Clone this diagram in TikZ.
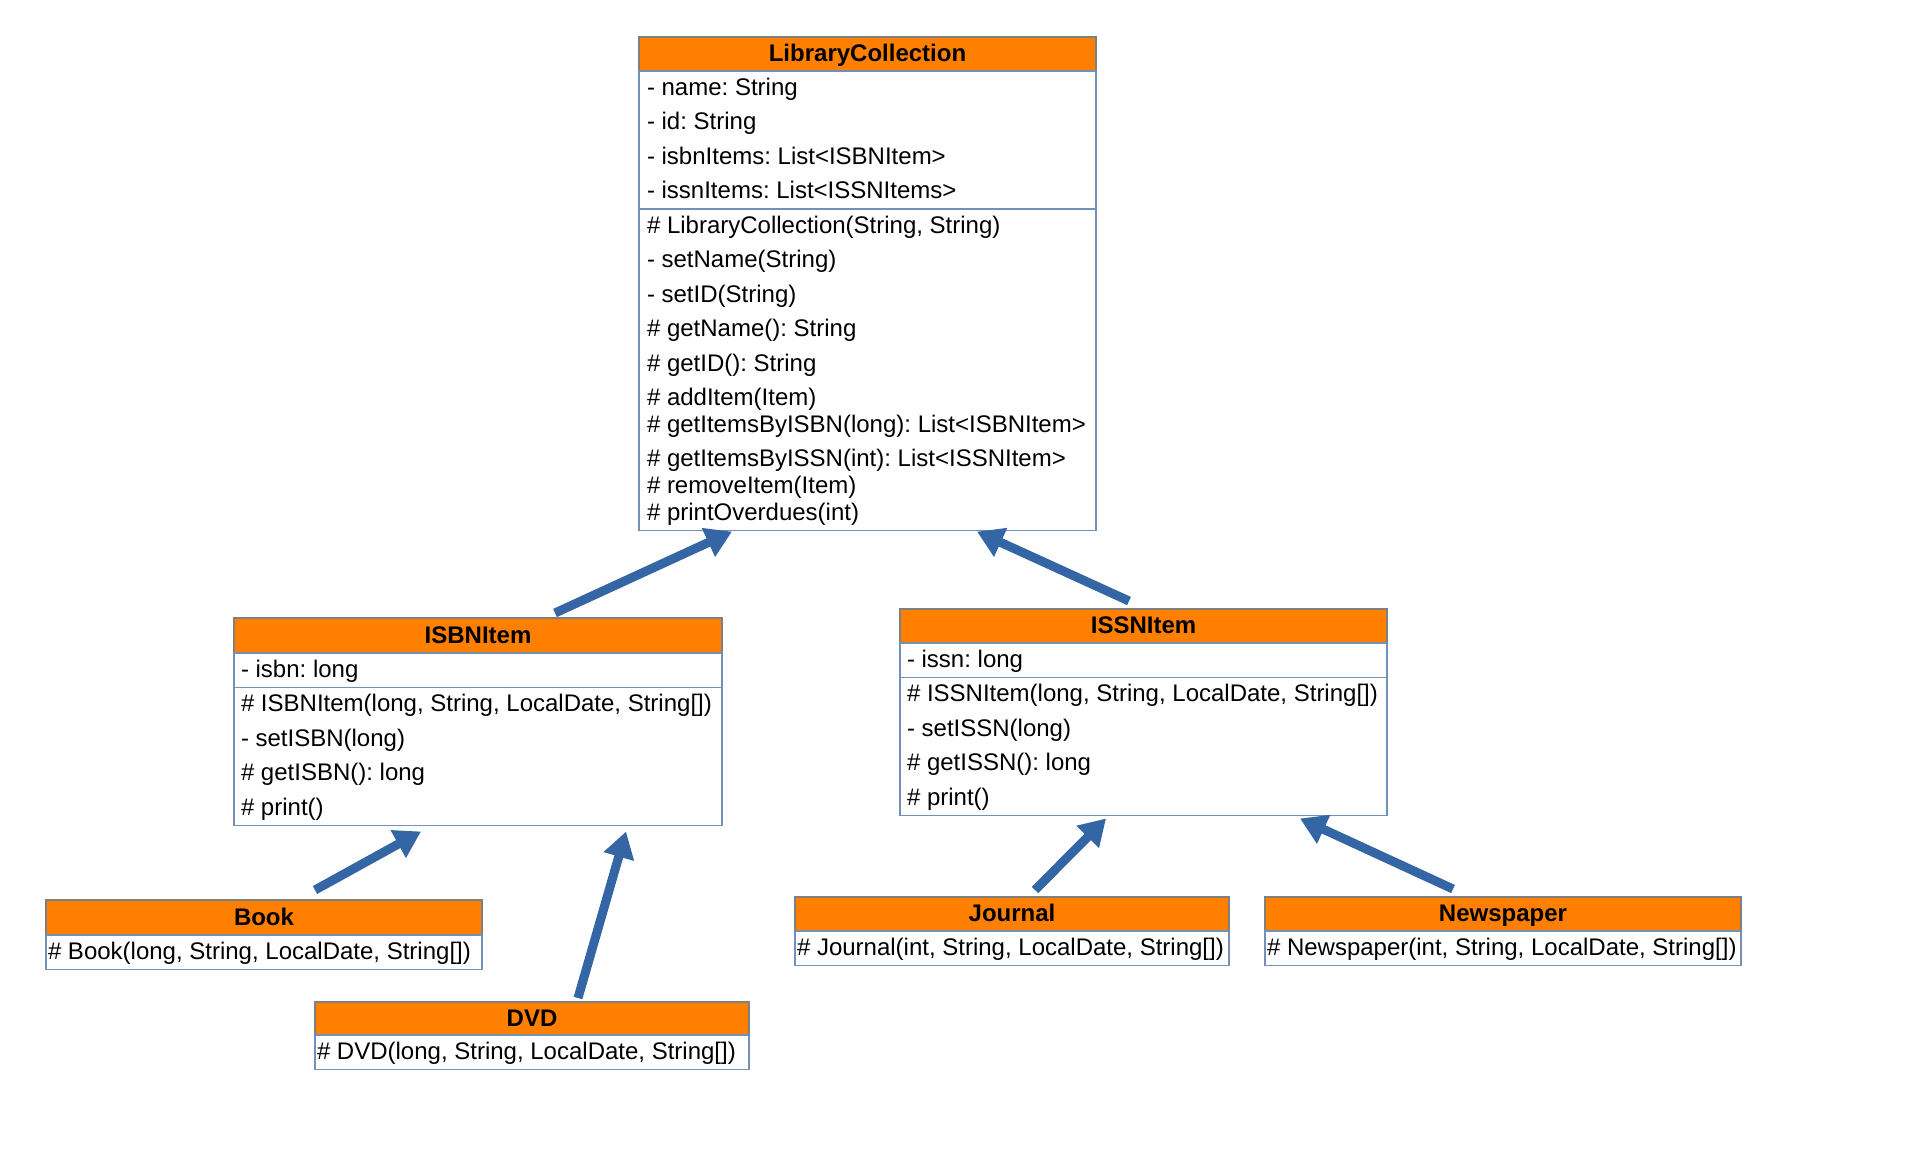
\documentclass[tikz,border=0pt]{standalone}
\usepackage{fontspec}
\setmainfont{Liberation Sans}
\usetikzlibrary{positioning,arrows.meta,calc}
\definecolor{headc}{RGB}{255,128,0}
\definecolor{headline}{RGB}{128,128,128}
\definecolor{framec}{RGB}{114,144,184}
\definecolor{arrowc}{RGB}{52,101,164}
\tikzset{
  classhead/.style = {draw=headline, fill=headc, line width=0.7pt, outer sep=0pt, inner sep=0pt,
                      minimum height=17pt, text height=9.6pt, text depth=2pt,
                      font=\fontsize{12}{14}\selectfont\bfseries},
  compart/.style   = {draw=framec, fill=white, line width=0.7pt, outer sep=0pt, inner ysep=0pt,
                      inner xsep=4pt, align=flush left, font=\fontsize{12}{17.25}\selectfont\frenchspacing},
  tight/.style     = {compart, inner xsep=1pt},
  inherit/.style   = {-{Triangle[length=13pt,width=15pt]}, line width=4.5pt, draw=arrowc},
}

\begin{document}
\begin{tikzpicture}[x=0.5pt, y=-0.5pt]
\useasboundingbox (0,0) rectangle (1920,1152);

% ---------- LibraryCollection ----------
\node[classhead, minimum width=228.5pt, anchor=north west] (lc) at (639,37) {LibraryCollection};
\node[compart, text width=220.5pt, below=0pt of lc] (lcattr)
  {\strut- name: String\\
   \strut- id: String\\
   \strut- isbnItems: List<ISBNItem>\\
   \strut- issnItems: List<ISSNItems>};
\node[compart, text width=220.5pt, minimum height=160pt, below=0pt of lcattr] (lcmeth)
  {\strut\# LibraryCollection(String, String)\\
   \strut- setName(String)\\
   \strut- setID(String)\\
   \strut\# getName(): String\\
   \strut\# getID(): String\\
   \strut\# addItem(Item)\\[-3.9pt]
   \strut\# getItemsByISBN(long): List<ISBNItem>\\
   \strut\# getItemsByISSN(int): List<ISSNItem>\\[-3.9pt]
   \strut\# removeItem(Item)\\[-3.9pt]
   \strut\# printOverdues(int)};

% ---------- ISBNItem ----------
\node[classhead, minimum width=244pt, minimum height=17.5pt, anchor=north west] (isbn) at (234,618) {ISBNItem};
\node[compart, inner xsep=3.5pt, text width=237pt, below=0pt of isbn] (isbnattr)
  {\strut- isbn: long};
\node[compart, inner xsep=3.5pt, text width=237pt, below=0pt of isbnattr] (isbnmeth)
  {\strut\# ISBNItem(long, String, LocalDate, String[])\\
   \strut- setISBN(long)\\
   \strut\# getISBN(): long\\
   \strut\# print()};

% ---------- ISSNItem ----------
\node[classhead, minimum width=243.5pt, anchor=north west] (issn) at (900,609) {ISSNItem};
\node[compart, inner xsep=3.5pt, text width=236.5pt, below=0pt of issn] (issnattr)
  {\strut- issn: long};
\node[compart, inner xsep=3.5pt, text width=236.5pt, below=0pt of issnattr] (issnmeth)
  {\strut\# ISSNItem(long, String, LocalDate, String[])\\
   \strut- setISSN(long)\\
   \strut\# getISSN(): long\\
   \strut\# print()};

% ---------- subclasses ----------
\node[classhead, minimum width=218pt, minimum height=17.5pt, anchor=north west] (book) at (46,900) {Book};
\node[tight, text width=216pt, below=0pt of book] (bookmeth)
  {\strut\# Book(long, String, LocalDate, String[])};

\node[classhead, minimum width=217pt, minimum height=16.5pt, anchor=north west] (dvd) at (315,1002) {DVD};
\node[tight, text width=215pt, below=0pt of dvd] (dvdmeth)
  {\strut\# DVD(long, String, LocalDate, String[])};

\node[classhead, minimum width=217pt, anchor=north west] (journal) at (795,897) {Journal};
\node[tight, text width=215pt, below=0pt of journal] (journalmeth)
  {\strut\# Journal(int, String, LocalDate, String[])};

\node[classhead, minimum width=238pt, anchor=north west] (paper) at (1265,897) {Newspaper};
\node[tight, text width=236pt, below=0pt of paper] (papermeth)
  {\strut\# Newspaper(int, String, LocalDate, String[])};

% ---------- inheritance ----------
\draw[inherit] ($(isbn.north west)+(321,-5)$) -- ($(lcmeth.south west)+(93,1)$);
\draw[inherit] ($(issn.north west)+(229,-8)$) -- ($(lcmeth.south west)+(338,1)$);
\draw[inherit] ($(book.north west)+(269,-10)$) -- ($(isbnmeth.south west)+(187,6)$);
\draw[inherit] ($(dvd.north west)+(263,-4)$) -- ($(isbnmeth.south west)+(392,6)$);
\draw[inherit] ($(journal.north west)+(240,-7)$) -- ($(issnmeth.south west)+(206,3)$);
\draw[inherit] ($(paper.north west)+(188,-8)$) -- ($(issnmeth.south west)+(400,3)$);

\end{tikzpicture}
\end{document}
